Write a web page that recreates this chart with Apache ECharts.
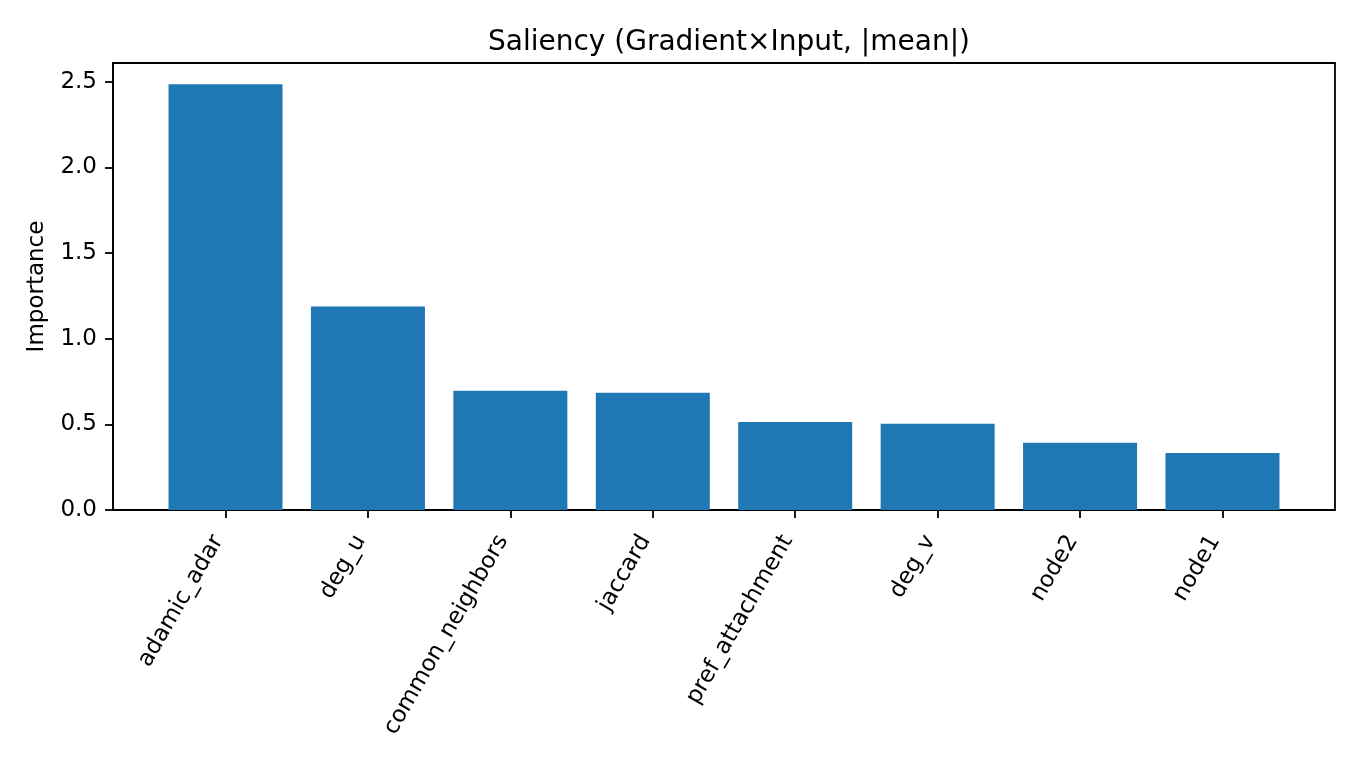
<!DOCTYPE html>
<html>
<head>
<meta charset="utf-8">
<script src="https://cdn.jsdelivr.net/npm/echarts@6/dist/echarts.min.js"></script>
<style>html,body{margin:0;padding:0;background:#fff;}#c{width:1360px;height:765px;}</style>
</head>
<body>
<div id="c"></div>
<script>
const categories = ['adamic_adar','deg_u','common_neighbors','jaccard','pref_attachment','deg_v','node2','node1'];
const importance = [2.485, 1.188, 0.696, 0.685, 0.514, 0.503, 0.392, 0.333];
const yTicks = [0, 0.5, 1.0, 1.5, 2.0, 2.5];
const titleText = 'Saliency (Gradient×Input, |mean|)';
const yLabel = 'Importance';

const FONT = 'DejaVu Sans';
const chart = echarts.init(document.getElementById('c'), null, {renderer: 'canvas'});
const idx = categories.map((_, i) => i);
const n = categories.length;
const xmin = -0.4 - 0.05 * (n - 1 + 0.8);
const xmax = (n - 1) + 0.4 + 0.05 * (n - 1 + 0.8);
const ymax = Math.max(...importance) * 1.05;
const LW = 1.8;

chart.setOption({
  animation: false,
  backgroundColor: '#fff',
  title: {
    text: titleText,
    left: 724, top: 24, textAlign: 'center',
    textStyle: {fontFamily: FONT, fontSize: 28, fontWeight: 'normal', color: '#000'}
  },
  grid: {left: 113, right: 25, top: 63, bottom: 255, show: true, borderColor: '#000', borderWidth: LW, backgroundColor: 'transparent'},
  xAxis: {
    type: 'value', min: xmin, max: xmax,
    splitLine: {show: false},
    axisLine: {show: true, onZero: false, lineStyle: {color: '#000', width: LW}},
    axisTick: {show: true, length: 8, lineStyle: {color: '#000', width: LW}, customValues: idx},
    axisLabel: {
      customValues: idx, rotate: 60, margin: 14,
      padding: [0, 15, 0, 0],
      formatter: v => categories[Math.round(v)],
      fontFamily: FONT, fontSize: 23, color: '#000'
    }
  },
  yAxis: {
    type: 'value', min: 0, max: ymax,
    name: yLabel, nameLocation: 'middle', nameGap: 64, nameRotate: 90,
    nameTextStyle: {fontFamily: FONT, fontSize: 23, color: '#000'},
    splitLine: {show: false},
    axisLine: {show: true, onZero: false, lineStyle: {color: '#000', width: LW}},
    axisTick: {show: true, length: 8, lineStyle: {color: '#000', width: LW}, customValues: yTicks},
    axisLabel: {
      customValues: yTicks, margin: 16,
      formatter: v => v.toFixed(1),
      fontFamily: FONT, fontSize: 23, color: '#000'
    }
  },
  series: [{
    type: 'bar',
    data: importance.map((v, i) => [i, v]),
    barWidth: 114,
    itemStyle: {color: '#1f77b4'}
  }]
});
</script>
</body>
</html>
